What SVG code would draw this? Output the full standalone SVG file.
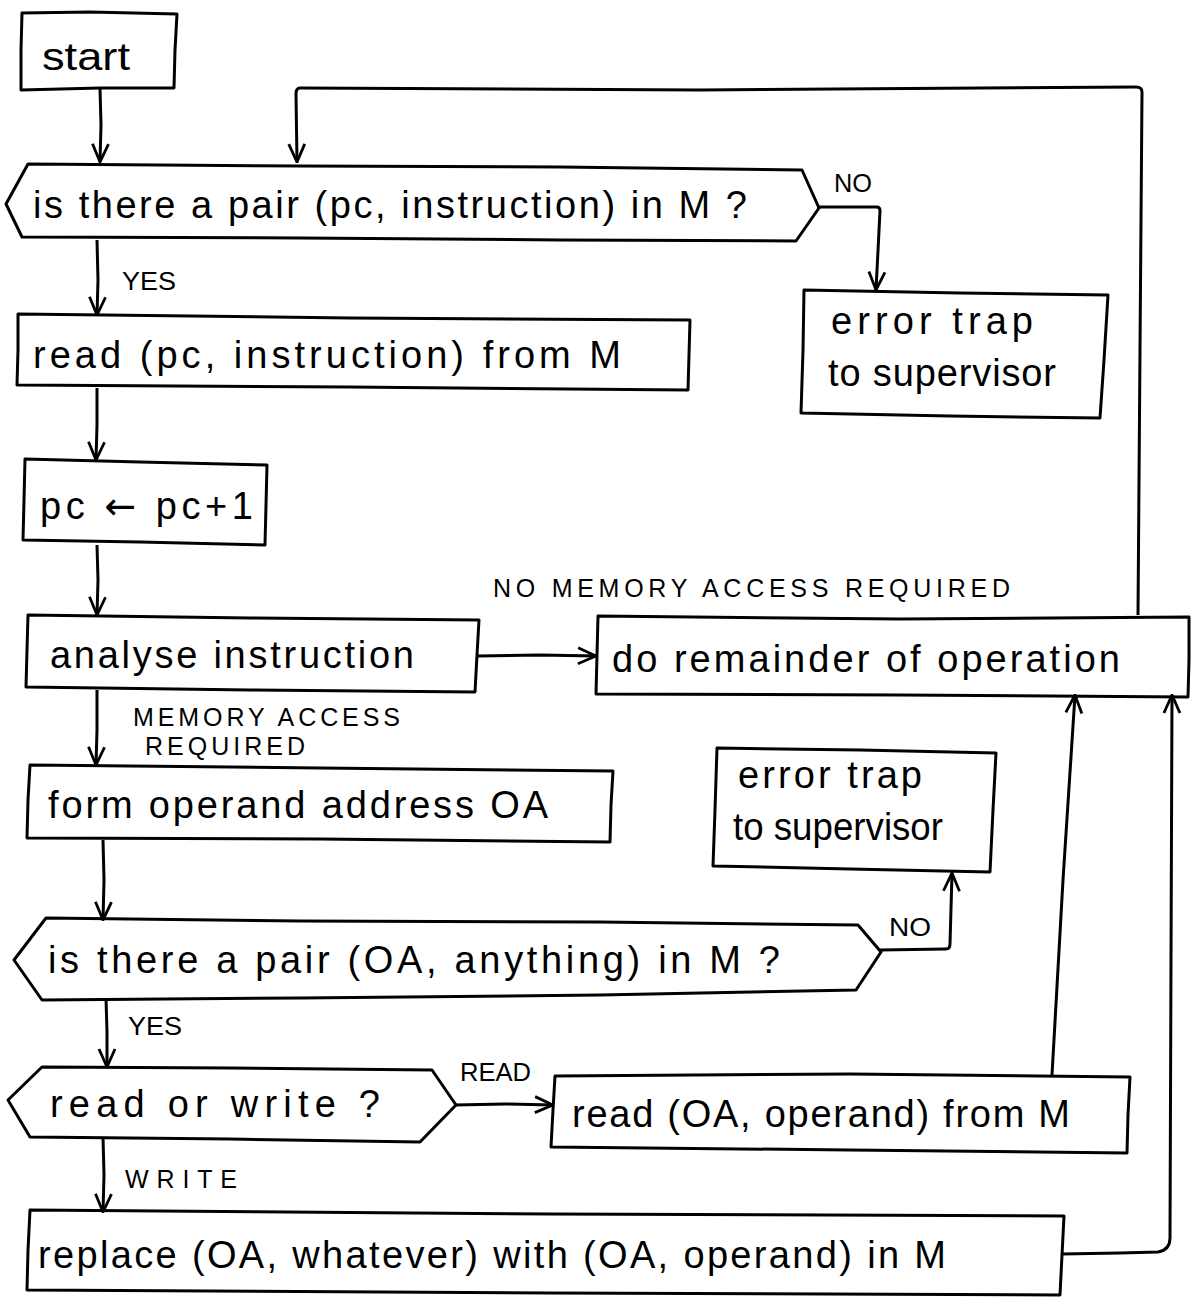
<svg xmlns="http://www.w3.org/2000/svg" width="1191" height="1300" viewBox="0 0 1191 1300">
  <style>
    .box { fill: none; stroke: #000; stroke-width: 3; stroke-linejoin: round; }
    .wire { fill: none; stroke: #000; stroke-width: 3; stroke-linejoin: round; }
    .t { font-family: "Liberation Sans", "Open Sans", sans-serif; font-size: 38px; fill: #000; }
    .lbl { font-family: "Liberation Sans", "Open Sans", sans-serif; font-size: 25px; fill: #000; }
    .sym { font-family: "DejaVu Sans", sans-serif; }
  </style>
  <defs>
    <marker id="head" viewBox="0 0 20 20" refX="19" refY="10" markerWidth="20" markerHeight="20" markerUnits="userSpaceOnUse" orient="auto">
      <path d="M1,2 L19,10 L1,18" fill="none" stroke="#000" stroke-width="2.8" stroke-linejoin="miter"/>
    </marker>
  </defs>
  <rect width="1191" height="1300" fill="#fff"/>

  <!-- connectors -->
  <g id="connectors">
    <path class="wire" d="M100,88 L101,125 L100,162" marker-end="url(#head)"/>
    <path class="wire" d="M1138,615 L1140,350 L1142,92 Q1142,87 1136,87 L700,90 L300,88 Q296,88 296,94 L297,162" marker-end="url(#head)"/>
    <path class="wire" d="M817,207 L877,207 Q880,207 880,211 L876,290" marker-end="url(#head)"/>
    <path class="wire" d="M97,240 L98,280 L97,315" marker-end="url(#head)"/>
    <path class="wire" d="M97,388 L97,425 L96,460" marker-end="url(#head)"/>
    <path class="wire" d="M97,545 L98,580 L97,615" marker-end="url(#head)"/>
    <path class="wire" d="M478,656 L540,655 L596,656" marker-end="url(#head)"/>
    <path class="wire" d="M97,690 L97,730 L96,765" marker-end="url(#head)"/>
    <path class="wire" d="M103,840 L104,880 L103,920" marker-end="url(#head)"/>
    <path class="wire" d="M880,950 L946,949 Q950,949 950,944 L952,873" marker-end="url(#head)"/>
    <path class="wire" d="M106,998 L107,1032 L107,1067" marker-end="url(#head)"/>
    <path class="wire" d="M455,1105 L505,1104 L553,1105" marker-end="url(#head)"/>
    <path class="wire" d="M1052,1075 L1063,880 L1075,695" marker-end="url(#head)"/>
    <path class="wire" d="M103,1137 L104,1175 L103,1212" marker-end="url(#head)"/>
    <path class="wire" d="M1062,1254 L1120,1253 L1158,1252 Q1170,1250 1170,1238 L1171,960 L1172,695" marker-end="url(#head)"/>
  </g>

  <!-- edge labels -->
  <g id="labels">
    <text class="lbl" x="834" y="192" textLength="38" lengthAdjust="spacingAndGlyphs">NO</text>
    <text class="lbl" x="122" y="290" textLength="54" lengthAdjust="spacingAndGlyphs">YES</text>
    <text class="lbl" x="493" y="597" textLength="517" lengthAdjust="spacing">NO MEMORY  ACCESS  REQUIRED</text>
    <text class="lbl" x="133" y="726" textLength="267" lengthAdjust="spacing">MEMORY  ACCESS</text>
    <text class="lbl" x="145" y="755" textLength="160" lengthAdjust="spacing">REQUIRED</text>
    <text class="lbl" x="889" y="936" textLength="42" lengthAdjust="spacingAndGlyphs">NO</text>
    <text class="lbl" x="128" y="1035" textLength="54" lengthAdjust="spacingAndGlyphs">YES</text>
    <text class="lbl" x="460" y="1081" textLength="71" lengthAdjust="spacingAndGlyphs">READ</text>
    <text class="lbl" x="125" y="1188" textLength="112" lengthAdjust="spacing">WRITE</text>
  </g>

  <g id="start">
    <path class="box" d="M22,13 L90,12 L177,14 L175,50 L174,88 L100,88 L21,90 L21,50 Z"/>
    <text class="t" x="42" y="70" textLength="88" lengthAdjust="spacingAndGlyphs">start</text>
  </g>

  <g id="pc-instruction-check">
    <path class="box" d="M28,164 L300,166 L560,167 L802,170 L819,208 L796,241 L560,240 L300,238 L22,237 L6,204 Z"/>
    <text class="t" x="33" y="218" textLength="714" lengthAdjust="spacing">is there a pair (pc, instruction) in M ?</text>
  </g>

  <g id="error-trap-1">
    <path class="box" d="M804,290 L960,293 L1108,295 L1104,360 L1100,418 L950,416 L801,413 L803,350 Z"/>
    <text class="t" x="831" y="334" textLength="202" lengthAdjust="spacing">error trap</text>
    <text class="t" x="828" y="386" textLength="228" lengthAdjust="spacing">to supervisor</text>
  </g>

  <g id="read-instruction">
    <path class="box" d="M18,314 L350,318 L690,320 L689,355 L688,390 L350,387 L17,385 L18,350 Z"/>
    <text class="t" x="33" y="368" textLength="588" lengthAdjust="spacing">read (pc, instruction) from M</text>
  </g>

  <g id="increment-pc">
    <path class="box" d="M25,459 L140,462 L267,465 L266,505 L265,545 L140,542 L23,540 L24,500 Z"/>
    <text class="t" x="40" y="519" textLength="213" lengthAdjust="spacing">pc <tspan class="sym">←</tspan> pc+1</text>
  </g>

  <g id="analyse-instruction">
    <path class="box" d="M28,615 L250,618 L479,620 L477,655 L475,692 L250,690 L26,687 L27,650 Z"/>
    <text class="t" x="50" y="668" textLength="364" lengthAdjust="spacing">analyse instruction</text>
  </g>

  <g id="remainder-of-operation">
    <path class="box" d="M598,616 L900,619 L1189,617 L1189,660 L1188,697 L900,695 L596,694 L597,655 Z"/>
    <text class="t" x="612" y="672" textLength="508" lengthAdjust="spacing">do remainder of operation</text>
  </g>

  <g id="form-operand-address">
    <path class="box" d="M30,765 L320,768 L613,771 L611,805 L610,842 L320,839 L27,838 L28,800 Z"/>
    <text class="t" x="48" y="818" textLength="500" lengthAdjust="spacing">form operand address OA</text>
  </g>

  <g id="error-trap-2">
    <path class="box" d="M717,748 L860,750 L996,753 L993,810 L990,872 L850,869 L713,866 L715,810 Z"/>
    <text class="t" x="738" y="788" textLength="184" lengthAdjust="spacing">error trap</text>
    <text class="t" x="733" y="840" textLength="210" lengthAdjust="spacingAndGlyphs">to supervisor</text>
  </g>

  <g id="operand-check">
    <path class="box" d="M46,918 L300,921 L600,922 L858,925 L881,952 L856,990 L600,995 L300,998 L42,1000 L14,960 Z"/>
    <text class="t" x="48" y="973" textLength="732" lengthAdjust="spacing">is there a pair (OA, anything) in M ?</text>
  </g>

  <g id="read-or-write">
    <path class="box" d="M42,1067 L230,1068 L432,1070 L456,1105 L420,1142 L230,1139 L30,1137 L8,1100 Z"/>
    <text class="t" x="50" y="1117" textLength="330" lengthAdjust="spacing">read or write ?</text>
  </g>

  <g id="read-operand">
    <path class="box" d="M555,1076 L850,1074 L1130,1077 L1128,1115 L1127,1153 L850,1150 L551,1147 L553,1110 Z"/>
    <text class="t" x="572" y="1127" textLength="498" lengthAdjust="spacing">read (OA, operand) from M</text>
  </g>

  <g id="replace-operand">
    <path class="box" d="M30,1210 L550,1214 L1064,1216 L1062,1255 L1060,1295 L550,1293 L27,1290 L28,1250 Z"/>
    <text class="t" x="38" y="1268" textLength="908" lengthAdjust="spacing">replace (OA, whatever) with (OA, operand) in M</text>
  </g>
</svg>
